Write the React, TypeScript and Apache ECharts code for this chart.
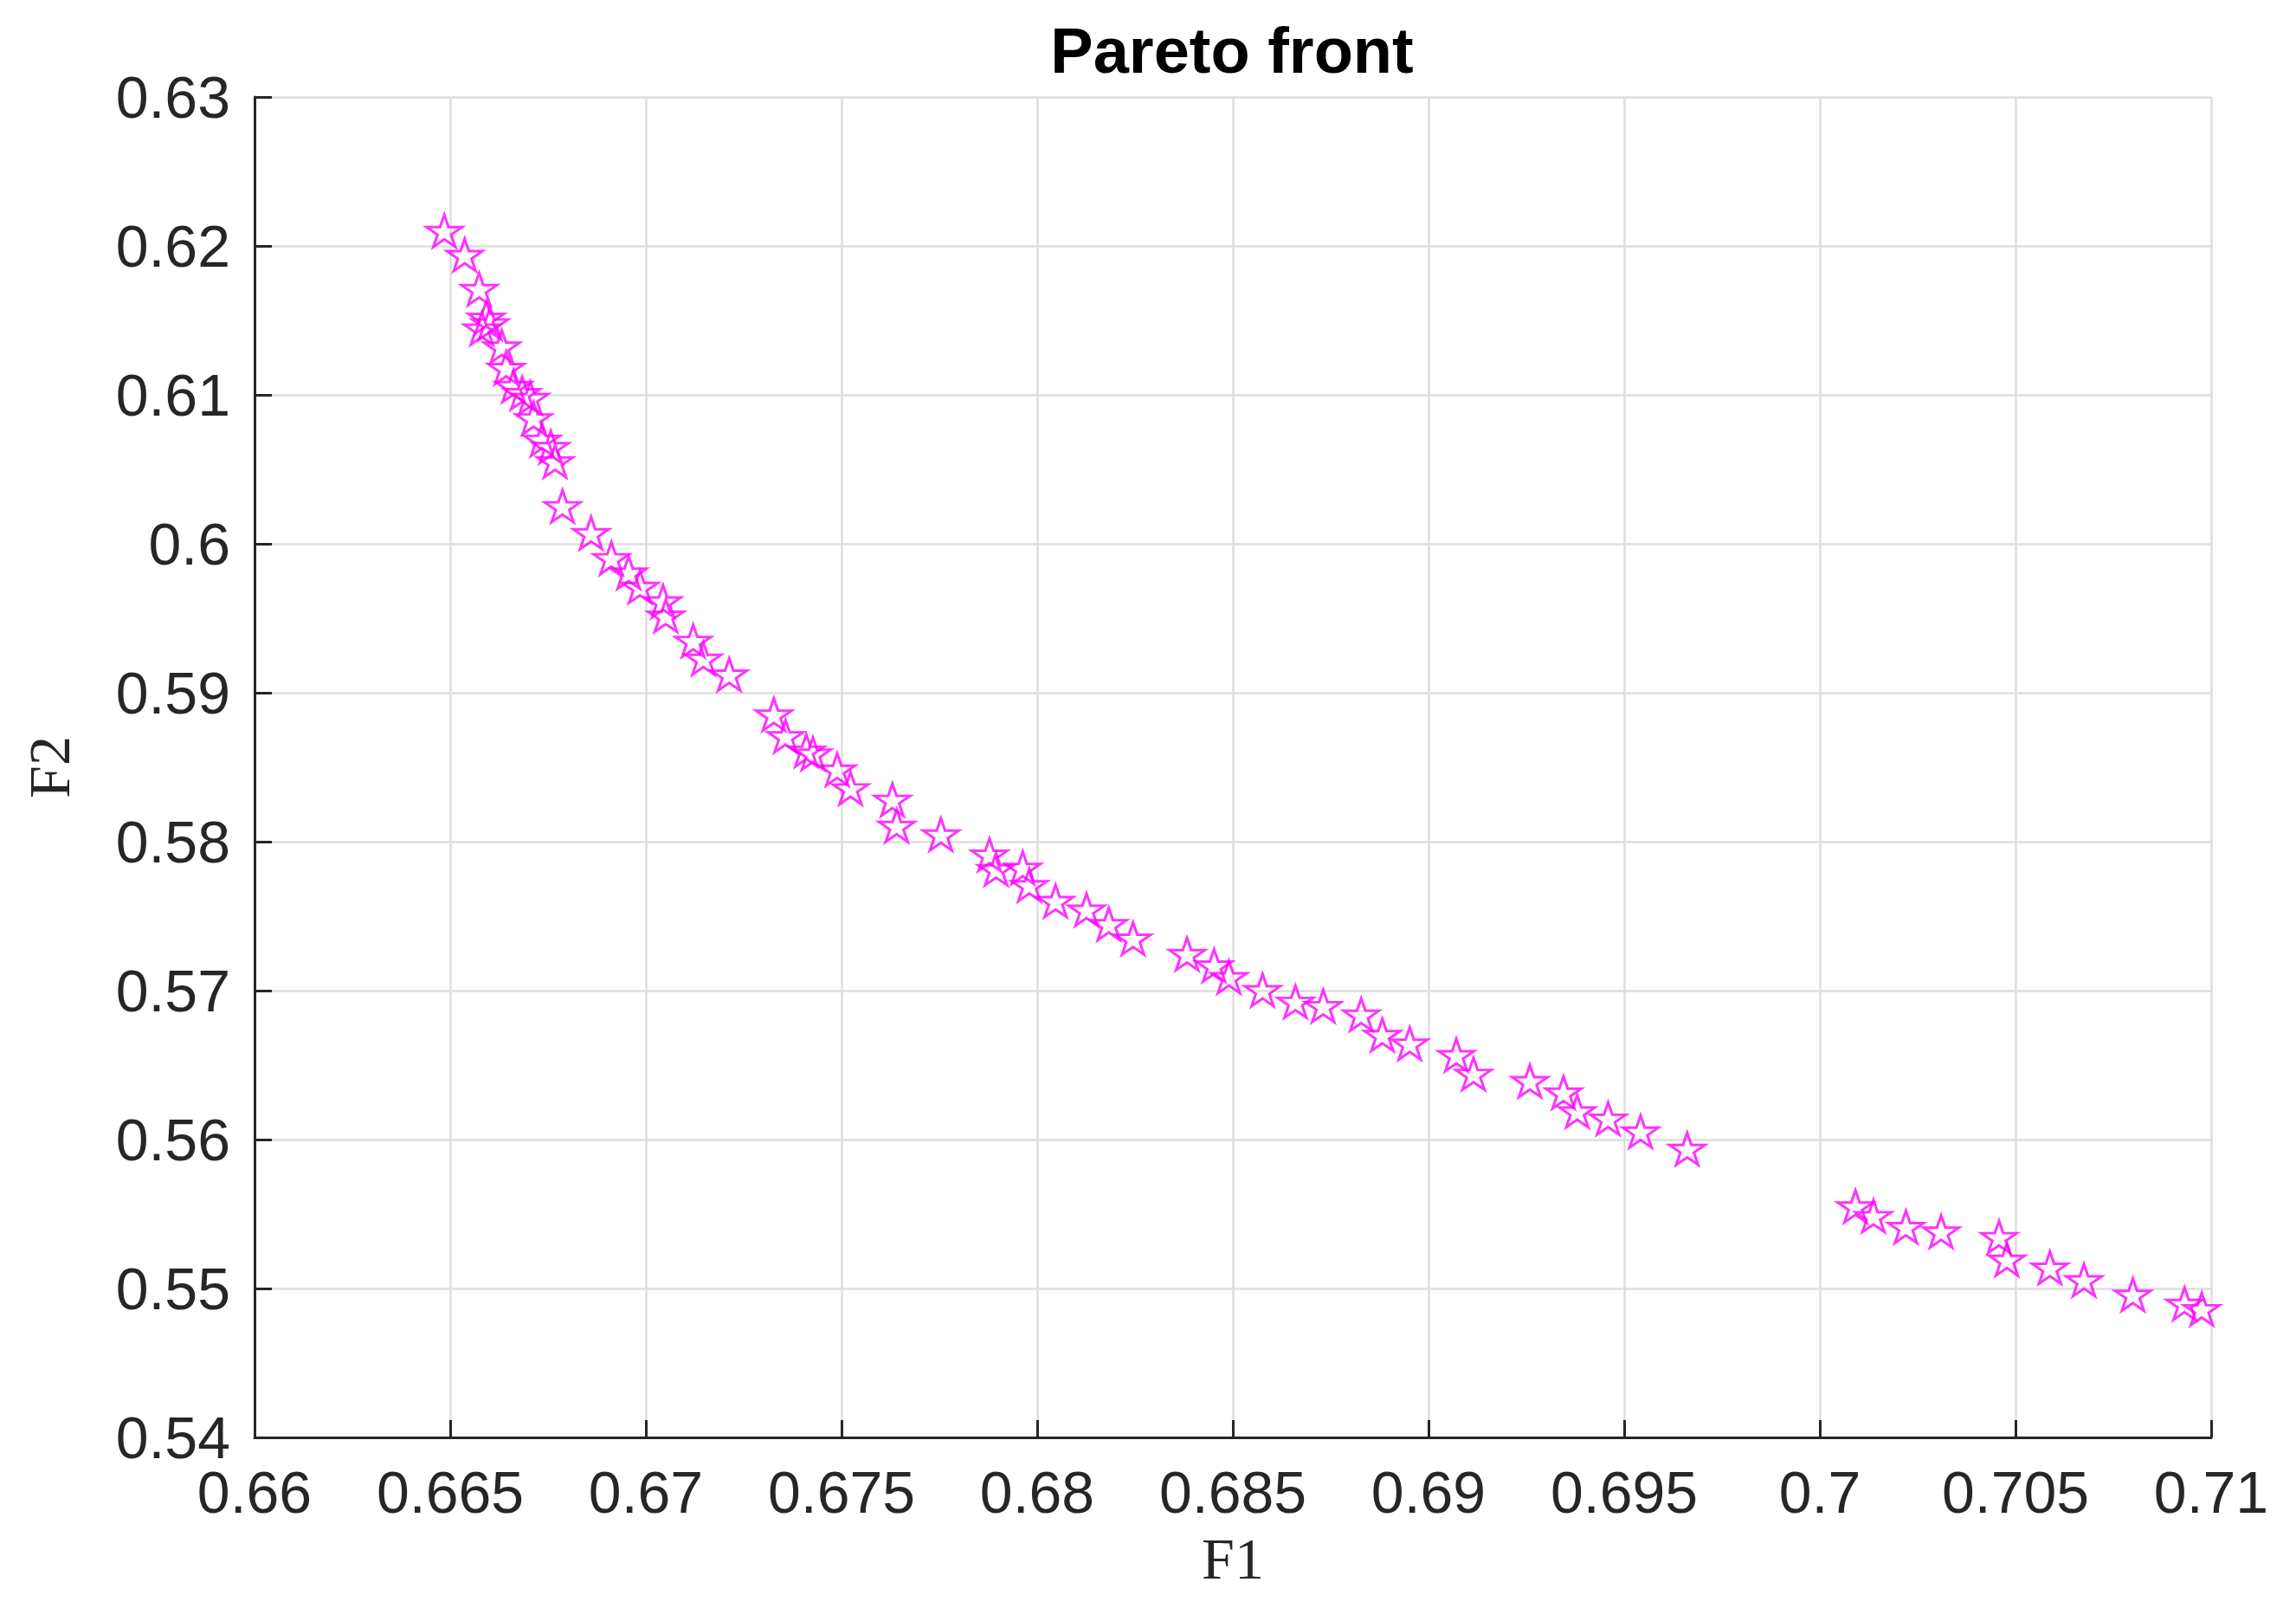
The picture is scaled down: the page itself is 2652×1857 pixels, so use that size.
import React, { useEffect, useRef } from "react";
import * as echarts from "echarts";

const TITLE = "Pareto front";
const X_NAME = "F1";
const Y_NAME = "F2";
const X_MIN = 0.66, X_MAX = 0.71, X_STEP = 0.005;
const Y_MIN = 0.54, Y_MAX = 0.63, Y_STEP = 0.01;

const F1 = [
  0.66485, 0.66537, 0.66574, 0.66592, 0.66581, 0.66602, 0.66632, 0.66643, 0.66662, 0.66684,
  0.66705, 0.66713, 0.66735, 0.66757, 0.66768, 0.66787, 0.6686, 0.66912, 0.66956, 0.66985,
  0.67044, 0.67051, 0.67121, 0.67147, 0.67213, 0.67327, 0.67357, 0.6741, 0.67427, 0.67489,
  0.67523, 0.6763, 0.67641, 0.67754, 0.67878, 0.67895, 0.67963, 0.6798, 0.68047, 0.68126,
  0.68183, 0.68245, 0.68383, 0.68452, 0.6849, 0.68576, 0.6866, 0.68731, 0.68828, 0.68882,
  0.68952, 0.69071, 0.69115, 0.69259, 0.69345, 0.6938, 0.69459, 0.69542, 0.69661, 0.70091,
  0.70137, 0.7022, 0.7031, 0.70458, 0.70478, 0.70588, 0.70675, 0.708, 0.70932, 0.70976,
];
const F2 = [
  0.62101, 0.6194, 0.61711, 0.61518, 0.61446, 0.6148, 0.61325, 0.61181, 0.6106, 0.61012,
  0.6098, 0.60843, 0.60699, 0.6065, 0.60554, 0.60253, 0.60072, 0.59904, 0.59807, 0.59711,
  0.59614, 0.59518, 0.59349, 0.59229, 0.59123, 0.58854, 0.58709, 0.58612, 0.58592, 0.58485,
  0.58359, 0.58282, 0.58107, 0.58049, 0.57913, 0.57816, 0.57825, 0.57709, 0.57602, 0.57544,
  0.57447, 0.5735, 0.57246, 0.57169, 0.57091, 0.57004, 0.56926, 0.56897, 0.56839, 0.56703,
  0.56645, 0.56568, 0.56442, 0.56393, 0.56316, 0.5619, 0.56141, 0.56054, 0.55938, 0.55552,
  0.55487, 0.55414, 0.55383, 0.55346, 0.55194, 0.5514, 0.55056, 0.54959, 0.54898, 0.54862,
];

const STAR =
  "path://M50 0L61.23 34.55L97.55 34.55L68.17 55.9L79.39 90.45L50 69.1L20.61 90.45L31.83 55.9L2.45 34.55L38.77 34.55Z";

const fmt = (v: number) => String(+v.toFixed(3));

export default function App() {
  const ref = useRef<HTMLDivElement>(null);
  useEffect(() => {
    if (!ref.current) return;
    const chart = echarts.init(ref.current, null, { renderer: "svg" });
    const data = F1.map((x, i) => [x, F2[i]]);
    const axisCommon = {
      axisLine: { show: true, onZero: false, lineStyle: { color: "#262626", width: 3 } },
      axisTick: { show: true, inside: true, length: 20, lineStyle: { color: "#262626", width: 3 } },
      splitLine: { show: true, lineStyle: { color: "#dedede", width: 2.5 } },
      axisLabel: {
        color: "#262626",
        fontFamily: "Liberation Sans, Arial, sans-serif",
        fontSize: 68,
        formatter: fmt,
        showMinLabel: true,
        showMaxLabel: true,
      },
      nameTextStyle: {
        color: "#262626",
        fontFamily: "Liberation Serif, Times New Roman, serif",
        fontSize: 68,
      },
    };
    chart.setOption({
      animation: false,
      backgroundColor: "#ffffff",
      title: {
        text: TITLE,
        left: 1418,
        textAlign: "center",
        top: 16,
        textStyle: {
          fontFamily: "Liberation Sans, Arial, sans-serif",
          fontWeight: "bold",
          fontSize: 74,
          color: "#000000",
        },
      },
      grid: { left: 294, right: 98, top: 112, bottom: 197, containLabel: false },
      xAxis: {
        type: "value",
        min: X_MIN,
        max: X_MAX,
        interval: X_STEP,
        name: X_NAME,
        nameLocation: "middle",
        nameGap: 106,
        ...axisCommon,
        axisLabel: { ...axisCommon.axisLabel, margin: 29 },
      },
      yAxis: {
        type: "value",
        min: Y_MIN,
        max: Y_MAX,
        interval: Y_STEP,
        name: Y_NAME,
        nameLocation: "middle",
        nameGap: 203,
        ...axisCommon,
        axisLabel: { ...axisCommon.axisLabel, margin: 28 },
      },
      series: [
        {
          type: "scatter",
          data,
          symbol: STAR,
          symbolKeepAspect: true,
          symbolSize: [41, 39],
          itemStyle: { color: "rgba(0,0,0,0)", borderColor: "#ff00ff", borderWidth: 3 },
        },
      ],
    });
    return () => chart.dispose();
  }, []);
  return (
    <div
      ref={ref}
      style={{ position: "absolute", left: 0, top: 0, width: 2652, height: 1857 }}
    />
  );
}
